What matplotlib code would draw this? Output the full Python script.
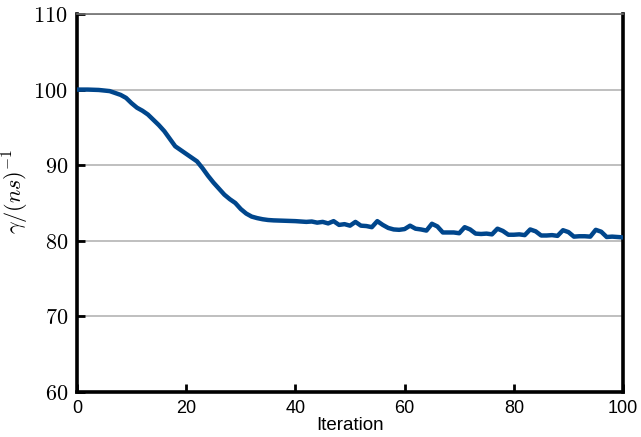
import matplotlib
matplotlib.use("Agg")
import matplotlib.pyplot as plt

# values
iterations = [0, 2, 4, 6, 8, 9, 10, 11, 12, 13, 14, 15, 16, 17, 18, 19, 20,
              21, 22, 23, 24, 25, 26, 27, 28, 29, 30, 31, 32, 33, 34, 35, 36,
              38, 40, 42, 43, 44, 45, 46, 47, 48, 49, 50, 51, 52, 53, 54, 55,
              56, 57, 58, 59, 60, 61, 62, 63, 64, 65, 66, 67, 68, 69, 70, 71,
              72, 73, 74, 75, 76, 77, 78, 79, 80, 81, 82, 83, 84, 85, 86, 87,
              88, 89, 90, 91, 92, 93, 94, 95, 96, 97, 98, 99, 100]
gamma = [100.0, 100.0, 99.95, 99.8, 99.3, 98.9, 98.2, 97.6, 97.2, 96.7, 96.0,
         95.3, 94.5, 93.5, 92.5, 92.0, 91.5, 91.0, 90.5, 89.6, 88.6, 87.7,
         86.9, 86.1, 85.5, 85.0, 84.2, 83.6, 83.2, 83.0, 82.85, 82.75, 82.7,
         82.65, 82.6, 82.5, 82.55, 82.4, 82.5, 82.3, 82.6, 82.1, 82.2, 82.0,
         82.5, 82.0, 81.95, 81.8, 82.6, 82.1, 81.7, 81.5, 81.45, 81.55, 82.0,
         81.6, 81.5, 81.35, 82.25, 81.9, 81.1, 81.1, 81.1, 81.0, 81.8, 81.5,
         80.95, 80.9, 80.95, 80.85, 81.6, 81.3, 80.8, 80.8, 80.85, 80.75, 81.5,
         81.25, 80.7, 80.7, 80.75, 80.65, 81.4, 81.15, 80.55, 80.6, 80.6,
         80.55, 81.45, 81.2, 80.5, 80.55, 80.5, 80.45]

x_ticks = [0, 20, 40, 60, 80, 100]
y_ticks = [60, 70, 80, 90, 100, 110]

plt.rcParams["mathtext.fontset"] = "cm"

fig = plt.figure(figsize=(6.41, 4.37), dpi=100)
ax = fig.add_axes([0.120, 0.103, 0.852, 0.865])

ax.plot(iterations, gamma, color="#00468c", lw=3.2, solid_joinstyle="round",
        zorder=3)

ax.set_xlim(0, 100)
ax.set_ylim(60, 110)
ax.set_xticks(x_ticks)
ax.set_xticklabels([str(t) for t in x_ticks], family="Liberation Sans",
                   fontsize=13)
ax.set_yticks(y_ticks)
ax.set_yticklabels([f"${t}$" for t in y_ticks], fontsize=16)

ax.yaxis.grid(True, color="#b4b4b4", lw=1.2)
ax.set_axisbelow(True)

ax.tick_params(axis="both", direction="in", length=6, width=2)
ax.tick_params(axis="x", pad=6)
ax.tick_params(axis="y", pad=6.5)

for side in ("left", "bottom", "right"):
    ax.spines[side].set_linewidth(2.6)
    ax.spines[side].set_color("black")
ax.spines["top"].set_linewidth(1.2)
ax.spines["top"].set_color("#707070")

ax.set_xlabel("Iteration", family="Liberation Sans", fontsize=13.5,
              labelpad=0)
ax.set_ylabel(r"$\gamma/(ns)^{-1}$", fontsize=16, labelpad=2, y=0.53)

fig.savefig("out.png", dpi=100)
